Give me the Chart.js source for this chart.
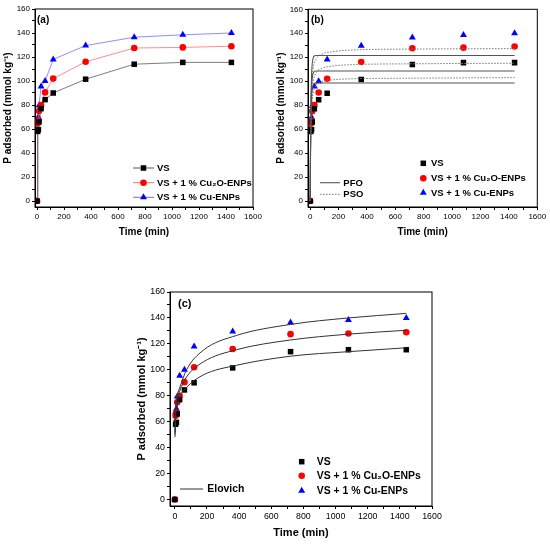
<!DOCTYPE html>
<html>
<head>
<meta charset="utf-8">
<script src="https://cdn.jsdelivr.net/npm/chart.js@4.4.0/dist/chart.umd.min.js"></script>
<style>
  body { margin: 0; background: #fff; }
  #wrap { position: relative; width: 550px; height: 544px; }
  canvas { position: absolute; }
</style>
</head>
<body>
<div id="wrap">
  <canvas id="chartA" width="275" height="250" style="left:0;top:0"></canvas>
  <canvas id="chartB" width="275" height="250" style="left:275px;top:0"></canvas>
  <canvas id="chartC" width="325" height="274" style="left:130px;top:270px"></canvas>
</div>
<script>
// measured data (min, mmol/kg)
const times = [0, 5, 10, 15, 30, 60, 120, 360, 720, 1080, 1440];
const vsData = [0, 58, 59.5, 66, 77, 84.5, 90, 101.5, 114, 115.5, 115.5];
const cu2oData = [0, 64.5, 67, 75, 80, 90.5, 102, 116, 127.5, 128, 129];
const cuData = [0, 67.5, 70, 79.5, 95.5, 100, 118, 129.5, 136.5, 138.5, 140];

// fitted curves
const pfoTimes = [0, 3, 6, 10, 15, 25, 40, 1440];
const pfoVs = [0, 40, 68, 85, 93, 97.5, 98.5, 98.5];
const pfoCu2o = [0, 44, 75, 94, 103, 107.5, 108.5, 108.5];
const pfoCu = [0, 50, 84, 105, 115, 120.5, 121.5, 121.5];

const psoTimes = [0, 3, 6, 10, 20, 40, 80, 150, 300, 720, 1440];
const psoVs = [0, 45, 65, 78, 89, 96, 99.5, 101, 102, 102.5, 103];
const psoCu2o = [0, 50, 72, 86, 99, 106.5, 110.5, 112.5, 113.8, 114.5, 115];
const psoCu = [0, 55, 80, 96, 110, 118, 122.5, 124.5, 126, 126.8, 127.2];

// Elovich curves
const eloTimes = [1, 5, 15, 30, 73, 176, 384, 720, 1080, 1440];
const eloVs = [48, 63, 72, 79, 86.5, 96, 103.5, 110.5, 114, 117];
const eloCu2o = [50, 67, 77, 83.5, 94.5, 106, 115.5, 123, 127.5, 130.5];
const eloCu = [52, 70, 80, 86, 100, 115, 126.5, 135, 140, 143.5];

const labels = ['VS', 'VS + 1 % Cu\u2082O-ENPs', 'VS + 1 % Cu-ENPs'];
const yTitle = 'P adsorbed (mmol kg\u207B\u00B9)';
const xTitle = 'Time (min)';

const FONT = "'Liberation Sans', Arial, sans-serif";

function pts(xs, ys) {
  return xs.map((x, i) => ({ x: x, y: ys[i] }));
}

// markers for the three soils
const markers = [
  { pointStyle: 'rect', pointRadius: 3.9, color: '#000000' },
  { pointStyle: 'circle', pointRadius: 3.3, color: '#ff0000' },
  { pointStyle: 'triangle', pointRadius: 4, color: '#0000ff' }
];

function pointSet(i, withLine, lineColor) {
  return {
    label: labels[i],
    data: pts(times, [vsData, cu2oData, cuData][i]),
    showLine: withLine,
    borderColor: lineColor || markers[i].color,
    borderWidth: 0.8,
    pointStyle: markers[i].pointStyle,
    pointRadius: markers[i].pointRadius,
    pointBackgroundColor: markers[i].color,
    pointBorderColor: markers[i].color,
    pointBorderWidth: 0
  };
}

function curveSet(label, xs, ys, color, width, dash) {
  return {
    label: label,
    data: pts(xs, ys),
    showLine: true,
    borderColor: color,
    borderWidth: width,
    borderDash: dash || [],
    pointRadius: 0,
    cubicInterpolationMode: 'monotone'
  };
}

// draws the box, the panel letter and the hand-placed legend
const decoPlugin = {
  id: 'deco',
  afterDraw(chart, args, opts) {
    const ctx = chart.ctx;
    const a = chart.chartArea;
    const k = opts.scale || 1;
    ctx.save();
    ctx.strokeStyle = '#000';
    ctx.lineWidth = 1;
    ctx.strokeRect(a.left, a.top, a.right - a.left, a.bottom - a.top);

    ctx.fillStyle = '#000';
    ctx.font = 'bold ' + (10 * k) + 'px ' + FONT;
    ctx.textBaseline = 'middle';
    ctx.textAlign = 'left';
    ctx.fillText(opts.tag, opts.tagPos[0], opts.tagPos[1]);

    (opts.items || []).forEach(it => {
      const ds = chart.data.datasets[it.ds];
      if (it.lx0 !== undefined) {
        ctx.save();
        ctx.strokeStyle = ds.borderColor;
        ctx.lineWidth = Math.max(ds.borderWidth, 1);
        ctx.setLineDash(ds.borderDash || []);
        ctx.beginPath();
        ctx.moveTo(it.lx0, it.y);
        ctx.lineTo(it.lx1, it.y);
        ctx.stroke();
        ctx.restore();
      }
      if (it.mx !== undefined && ds.pointRadius > 0) {
        ctx.save();
        ctx.fillStyle = ds.pointBackgroundColor;
        ctx.strokeStyle = ds.pointBorderColor;
        Chart.helpers.drawPoint(ctx, {
          pointStyle: ds.pointStyle, radius: ds.pointRadius, rotation: 0, borderWidth: 0
        }, it.mx, it.y);
        ctx.restore();
      }
      ctx.fillStyle = '#000';
      ctx.font = 'bold ' + (9.5 * k) + 'px ' + FONT;
      ctx.fillText(it.text || ds.label, it.tx, it.y + 0.5);
    });
    ctx.restore();
  }
};

function makeOptions(p) {
  const k = p.deco.scale || 1;
  const tickFont = { family: FONT, size: 8 * k };
  const titleFont = { family: FONT, size: 10 * k, weight: 'bold' };
  return {
    responsive: false,
    animation: false,
    layout: { padding: { left: 0, top: p.top, right: p.right, bottom: 0 } },
    plugins: {
      legend: { display: false },
      tooltip: { enabled: false },
      deco: p.deco
    },
    scales: {
      x: {
        type: 'linear',
        min: p.xMin,
        max: 1600,
        afterFit: s => { s.height = p.xH; },
        ticks: {
          stepSize: 100,
          includeBounds: false,
          autoSkip: false,
          maxRotation: 0,
          padding: 2,
          color: '#000',
          font: tickFont,
          callback: v => (v >= 0 && v % 200 === 0) ? v : ''
        },
        grid: { drawOnChartArea: false, tickLength: 3, color: '#000' },
        border: { color: '#000', width: 1 },
        title: {
          display: true, text: xTitle, color: '#000', font: titleFont,
          padding: { top: 0, bottom: p.xTitlePad }
        }
      },
      y: {
        type: 'linear',
        min: -5,
        max: 160,
        afterFit: s => { s.width = p.yW; },
        ticks: {
          stepSize: 10,
          includeBounds: false,
          autoSkip: false,
          padding: 2,
          color: '#000',
          font: tickFont,
          callback: v => (v >= 0 && v % 20 === 0) ? v : ''
        },
        grid: { drawOnChartArea: false, tickLength: 3, color: '#000' },
        border: { color: '#000', width: 1 },
        title: {
          display: true, text: yTitle, color: '#000', font: titleFont,
          padding: { top: p.yTitlePad, bottom: 0 }
        }
      }
    }
  };
}

// (a) measured data joined by lines
new Chart(document.getElementById('chartA'), {
  type: 'scatter',
  data: {
    datasets: [
      pointSet(0, true, '#5a5a5a'),
      pointSet(1, true, '#ff7070'),
      pointSet(2, true, '#7070ff')
    ]
  },
  options: makeOptions({
    xMin: -15, top: 9, right: 22, xH: 43, yW: 35, xTitlePad: 12, yTitlePad: 2,
    deco: {
      tag: '(a)', tagPos: [37, 20],
      items: [
        { ds: 0, y: 168, lx0: 133, lx1: 154, mx: 143.5, tx: 157 },
        { ds: 1, y: 182.7, lx0: 133, lx1: 154, mx: 143.5, tx: 157 },
        { ds: 2, y: 197.3, lx0: 133, lx1: 154, mx: 143.5, tx: 157 }
      ]
    }
  }),
  plugins: [decoPlugin]
});

// (b) PFO and PSO fits
new Chart(document.getElementById('chartB'), {
  type: 'scatter',
  data: {
    datasets: [
      curveSet('PFO', pfoTimes, pfoVs, '#555555', 1.1),
      curveSet('PFO', pfoTimes, pfoCu2o, '#555555', 1.1),
      curveSet('PFO', pfoTimes, pfoCu, '#555555', 1.1),
      curveSet('PSO', psoTimes, psoVs, '#777777', 1, [1.5, 1.5]),
      curveSet('PSO', psoTimes, psoCu2o, '#777777', 1, [1.5, 1.5]),
      curveSet('PSO', psoTimes, psoCu, '#777777', 1, [1.5, 1.5]),
      pointSet(0, false),
      pointSet(1, false),
      pointSet(2, false)
    ]
  },
  options: makeOptions({
    xMin: -15, top: 9.3, right: 12.7, xH: 43, yW: 33, xTitlePad: 12, yTitlePad: 0,
    deco: {
      tag: '(b)', tagPos: [36, 20],
      items: [
        { ds: 6, y: 163.3, mx: 148.3, tx: 156 },
        { ds: 7, y: 178.3, mx: 148.3, tx: 156 },
        { ds: 8, y: 192.7, mx: 148.3, tx: 156 },
        { ds: 0, y: 182.7, lx0: 45, lx1: 65, tx: 68.3 },
        { ds: 3, y: 194.3, lx0: 45, lx1: 65, tx: 68.3 }
      ]
    }
  }),
  plugins: [decoPlugin]
});

// (c) Elovich fits, drawn a little larger in the source figure
new Chart(document.getElementById('chartC'), {
  type: 'scatter',
  data: {
    datasets: [
      curveSet('Elovich', eloTimes, eloVs, '#333333', 1),
      curveSet('Elovich', eloTimes, eloCu2o, '#333333', 1),
      curveSet('Elovich', eloTimes, eloCu, '#333333', 1),
      pointSet(0, false),
      pointSet(1, false),
      pointSet(2, false)
    ]
  },
  options: makeOptions({
    xMin: -30, top: 22, right: 23, xH: 38, yW: 40, xTitlePad: 4, yTitlePad: 5,
    deco: {
      scale: 1.1,
      tag: '(c)', tagPos: [48, 34],
      items: [
        { ds: 3, y: 191.7, mx: 171.7, tx: 186.7 },
        { ds: 4, y: 205.7, mx: 171.7, tx: 186.7 },
        { ds: 5, y: 220.7, mx: 171.7, tx: 186.7 },
        { ds: 0, y: 219, lx0: 50, lx1: 73, tx: 77.3 }
      ]
    }
  }),
  plugins: [decoPlugin]
});
</script>
</body>
</html>
